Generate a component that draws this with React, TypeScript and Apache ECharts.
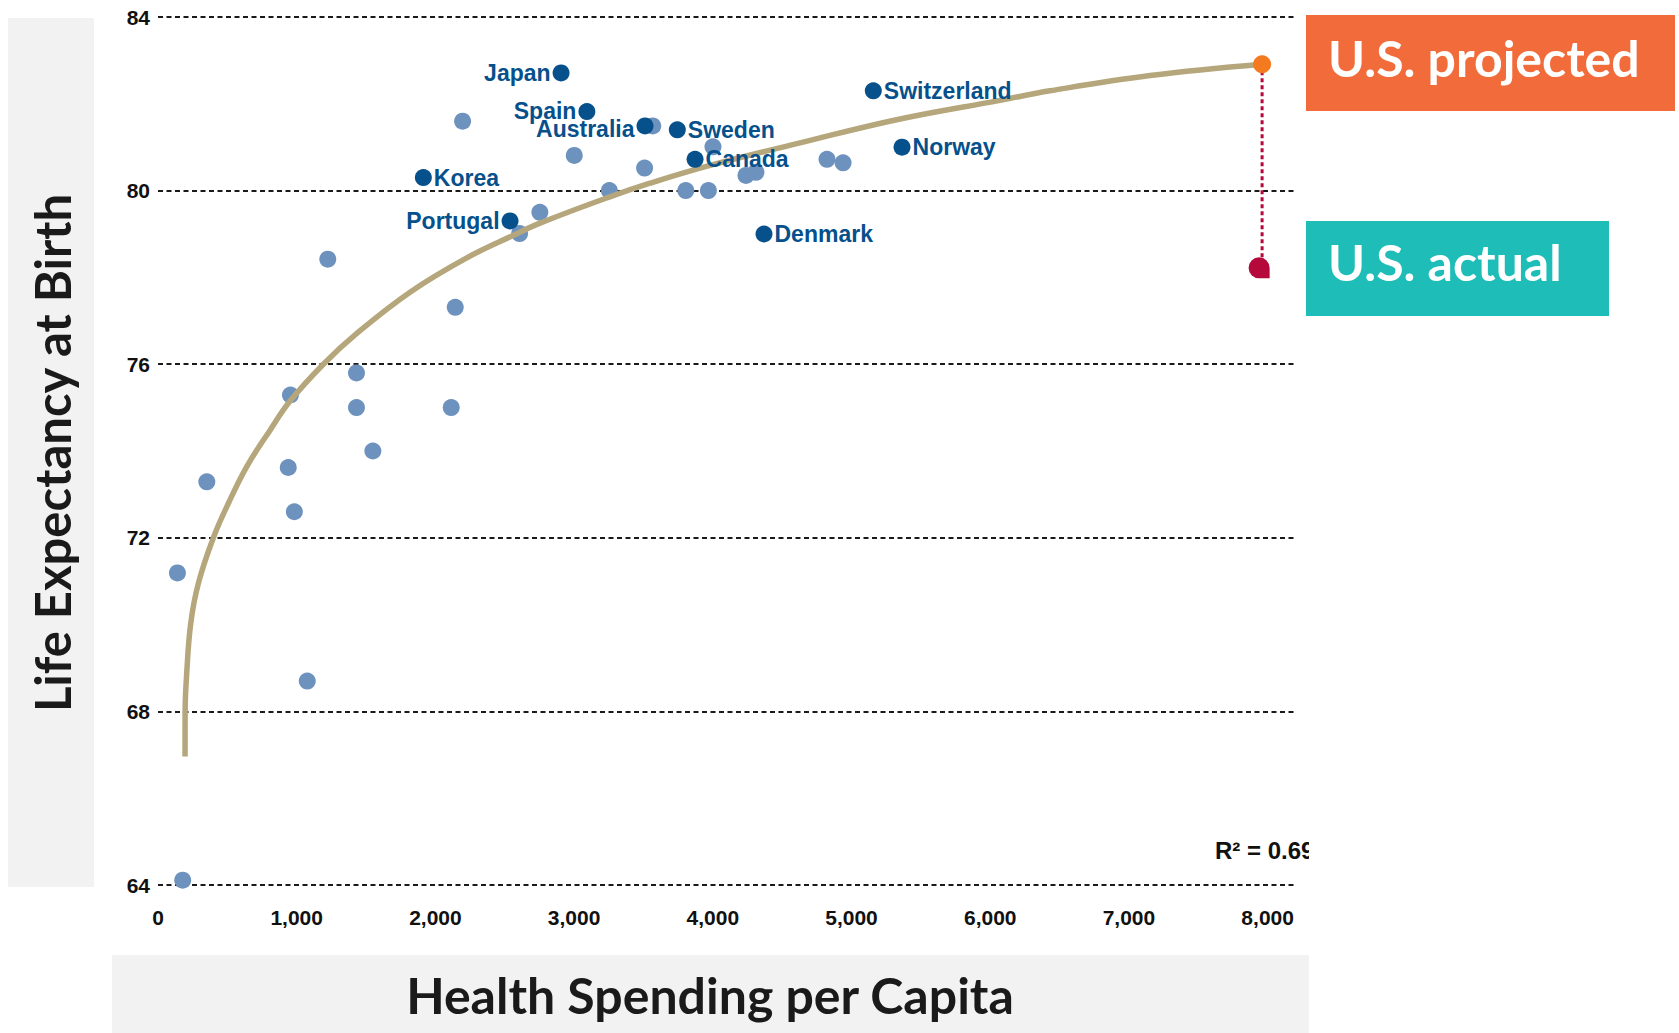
import React, { useEffect, useRef } from 'react';
import * as echarts from 'echarts';

// ---------- data ----------
const xTickValues = [0, 1000, 2000, 3000, 4000, 5000, 6000, 7000, 8000];
const yTickValues = [64, 68, 72, 76, 80, 84];

// other OECD countries (unlabelled)
const otherSpending = [2196, 3001, 3567, 3508, 3254, 3805, 3968, 4001, 4239, 4311, 4823, 4939, 2753, 2607, 1224, 2143, 1431, 955, 1431, 2114, 1549, 352, 939, 983, 140, 1076, 178];
const otherLifeExp = [81.6, 80.81, 81.49, 80.52, 80.0, 80.0, 80.0, 81.01, 80.35, 80.42, 80.72, 80.64, 79.5, 79.01, 78.42, 77.31, 75.8, 75.29, 75.0, 75.0, 74.0, 73.29, 73.62, 72.6, 71.19, 68.7, 64.11];

// labelled countries
const countryNames = ['Japan', 'Spain', 'Australia', 'Sweden', 'Canada', 'Switzerland', 'Norway', 'Denmark', 'Korea', 'Portugal'];
const countrySpending = [2906, 3092, 3511, 3744, 3872, 5157, 5364, 4369, 1913, 2538];
const countryLifeExp = [82.71, 81.82, 81.49, 81.4, 80.72, 82.3, 81.0, 79.0, 80.3, 79.3];
const leftLabelled = ['Japan', 'Spain', 'Australia', 'Portugal'];

// trend curve
const trendSpending = [195, 195.5, 207, 236, 291, 399, 507, 640, 808, 952, 1192, 1433, 1817, 2226, 2562, 2754, 3252, 3547, 3980, 4629, 5350, 6071, 6431, 7152, 7960];
const trendLifeExp = [66.96, 67.99, 68.88, 70.03, 70.95, 72.0, 72.79, 73.64, 74.48, 75.15, 76.0, 76.71, 77.66, 78.45, 78.97, 79.25, 79.85, 80.17, 80.58, 81.1, 81.65, 82.08, 82.3, 82.65, 82.91];

// United States
const usSpending = 7960;
const usProjected = 82.91;
const usActual = 78.22;

const rSquaredText = 'R² = 0.69';
const xTitle = 'Health Spending per Capita';
const yTitle = 'Life Expectancy at Birth';
const projectedText = 'U.S. projected';
const actualText = 'U.S. actual';

// ---------- styles ----------
const TICK_FONT = "'Liberation Sans', Arial, Helvetica, sans-serif";
const TITLE_FONT = "Lato, 'Open Sans', sans-serif";
const DARK_BLUE = '#06508b';
const LIGHT_BLUE = '#6e92be';
const TREND = '#b5a77b';
const CRIMSON = '#b5093c';
const ORANGE_DOT = '#f47a20';

function fmtThousands(v: number): string {
  return String(v).replace(/\B(?=(\d{3})+(?!\d))/g, ',');
}

export default function App() {
  const ref = useRef<HTMLDivElement>(null);

  useEffect(() => {
    if (!ref.current) return;
    const chart = echarts.init(ref.current, null, { renderer: 'svg' });

    const otherData = otherSpending.map((x, i) => [x, otherLifeExp[i]]);
    const countryData = countryNames.map((name, i) => ({
      name,
      value: [countrySpending[i], countryLifeExp[i]],
      label: {
        position: leftLabelled.includes(name) ? 'left' : 'right',
        offset: name === 'Australia' ? [0, 3] : name === 'Spain' ? [0, -1] : [0, 0],
      },
    }));
    const trendData = trendSpending.map((x, i) => [x, trendLifeExp[i]]);

    const option: any = {
      animation: false,
      backgroundColor: '#ffffff',
      grid: { left: 158, top: 17, width: 1136, height: 868, containLabel: false },
      xAxis: {
        type: 'value',
        min: xTickValues[0],
        max: 8190,
        interval: 1000,
        axisLine: { show: false },
        axisTick: { show: false },
        splitLine: { show: false },
        axisLabel: {
          margin: 22,
          fontSize: 21,
          fontWeight: 'bold',
          fontFamily: TICK_FONT,
          color: '#111111',
          formatter: (v: number) => (xTickValues.includes(v) ? fmtThousands(v) : ''),
        },
      },
      yAxis: {
        type: 'value',
        min: yTickValues[0],
        max: yTickValues[yTickValues.length - 1],
        interval: 4,
        axisLine: { show: false },
        axisTick: { show: false },
        axisLabel: {
          margin: 8,
          fontSize: 21,
          fontWeight: 'bold',
          fontFamily: TICK_FONT,
          color: '#111111',
        },
        splitLine: {
          show: true,
          lineStyle: { color: '#1a1a1a', width: 1.8, type: [5, 3.5] },
        },
      },
      series: [
        {
          type: 'scatter',
          name: 'others',
          data: otherData,
          symbol: 'circle',
          symbolSize: 17,
          itemStyle: { color: LIGHT_BLUE, opacity: 1 },
          z: 2,
          silent: true,
        },
        {
          type: 'line',
          name: 'trend',
          data: trendData,
          showSymbol: false,
          symbol: 'none',
          smooth: 0.4,
          lineStyle: { color: TREND, width: 5.5, opacity: 1 },
          z: 3,
          silent: true,
        },
        {
          type: 'scatter',
          name: 'countries',
          data: countryData,
          symbol: 'circle',
          symbolSize: 17,
          itemStyle: { color: DARK_BLUE, opacity: 1 },
          label: {
            show: true,
            formatter: '{b}',
            distance: 2,
            color: DARK_BLUE,
            fontSize: 23,
            fontWeight: 'bold',
            fontFamily: TICK_FONT,
          },
          z: 4,
          silent: true,
        },
        {
          type: 'line',
          name: 'gap',
          data: [[usSpending, usProjected], [usSpending, usActual]],
          showSymbol: false,
          symbol: 'none',
          lineStyle: { color: CRIMSON, width: 3, type: [4, 3], opacity: 1 },
          z: 5,
          silent: true,
        },
        {
          type: 'scatter',
          name: 'us projected',
          data: [[usSpending, usProjected]],
          symbol: 'circle',
          symbolSize: 18,
          itemStyle: { color: ORANGE_DOT, opacity: 1 },
          z: 6,
          silent: true,
        },
        {
          type: 'scatter',
          name: 'us actual',
          data: [[usSpending, usActual]],
          symbol: 'path://M0,10A10,10,0,1,1,20,10L20,20L10,20A10,10,0,0,1,0,10Z',
          symbolSize: 21,
          symbolOffset: [-3, 0],
          itemStyle: { color: CRIMSON, opacity: 1 },
          z: 6,
          silent: true,
        },
      ],
      graphic: [
        // y-axis title band
        {
          type: 'rect',
          shape: { x: 8, y: 18, width: 86, height: 869 },
          style: { fill: '#f2f2f2' },
          silent: true,
        },
        {
          type: 'text',
          x: 52,
          y: 453,
          rotation: Math.PI / 2,
          style: {
            text: yTitle,
            fontFamily: TITLE_FONT,
            fontWeight: 'bold',
            fontSize: 49,
            fill: '#1a1a1a',
            align: 'center',
            verticalAlign: 'middle',
          },
          silent: true,
        },
        // x-axis title band
        {
          type: 'rect',
          shape: { x: 112, y: 955, width: 1197, height: 78 },
          style: { fill: '#f2f2f2' },
          silent: true,
        },
        {
          type: 'text',
          x: 710,
          y: 995,
          style: {
            text: xTitle,
            fontFamily: TITLE_FONT,
            fontWeight: 'bold',
            fontSize: 50,
            fill: '#1a1a1a',
            align: 'center',
            verticalAlign: 'middle',
          },
          silent: true,
        },
        // U.S. projected box
        {
          type: 'rect',
          shape: { x: 1306, y: 15, width: 369, height: 96 },
          style: { fill: '#f26b3a' },
          silent: true,
        },
        {
          type: 'text',
          x: 1328,
          y: 58,
          style: {
            text: projectedText,
            fontFamily: TITLE_FONT,
            fontWeight: 'bold',
            fontSize: 50,
            fill: '#ffffff',
            align: 'left',
            verticalAlign: 'middle',
          },
          silent: true,
        },
        // U.S. actual box
        {
          type: 'rect',
          shape: { x: 1306, y: 221, width: 303, height: 95 },
          style: { fill: '#1ebdb8' },
          silent: true,
        },
        {
          type: 'text',
          x: 1328,
          y: 262,
          style: {
            text: actualText,
            fontFamily: TITLE_FONT,
            fontWeight: 'bold',
            fontSize: 50,
            fill: '#ffffff',
            align: 'left',
            verticalAlign: 'middle',
          },
          silent: true,
        },
        // R squared, clipped at the right edge of the plot image
        {
          type: 'text',
          x: 1215,
          y: 850,
          z: 10,
          style: {
            text: rSquaredText,
            fontFamily: TICK_FONT,
            fontWeight: 'bold',
            fontSize: 24,
            fill: '#111111',
            align: 'left',
            verticalAlign: 'middle',
          },
          silent: true,
        },
        {
          type: 'rect',
          z: 11,
          shape: { x: 1309, y: 832, width: 40, height: 40 },
          style: { fill: '#ffffff' },
          silent: true,
        },
      ],
    };

    chart.setOption(option);
    return () => chart.dispose();
  }, []);

  return (
    <div
      ref={ref}
      style={{ position: 'fixed', left: 0, top: 0, width: 1679, height: 1033, background: '#ffffff' }}
    />
  );
}
